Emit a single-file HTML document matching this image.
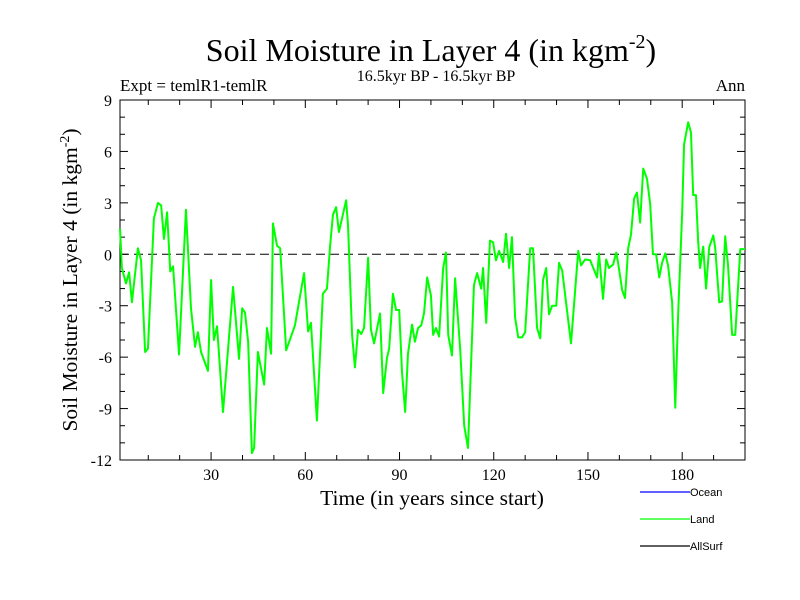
<!DOCTYPE html>
<html><head><meta charset="utf-8"><style>
body{margin:0;background:#fff}
svg{display:block;font-family:"Liberation Serif",serif}
</style></head><body>
<svg id="chart" width="800" height="600">
<text x="431" y="61" font-size="32" text-anchor="middle">Soil Moisture in Layer 4 (in kgm<tspan font-size="20" dy="-13">-2</tspan><tspan dy="13">)</tspan></text>
<text x="436" y="81" font-size="16" text-anchor="middle">16.5kyr BP - 16.5kyr BP</text>
<text x="120" y="91" font-size="17">Expt = temlR1-temlR</text>
<text x="745" y="91" font-size="17" text-anchor="end">Ann</text>
<text transform="translate(77,280) rotate(-90)" font-size="21.5" text-anchor="middle">Soil Moisture in Layer 4 (in kgm<tspan font-size="14" dy="-8">-2</tspan><tspan dy="8">)</tspan></text>
<text x="432" y="505" font-size="21.5" text-anchor="middle">Time (in years since start)</text>
<g id="axes"></g>
<g id="series"></g>
<g id="legend" font-family="Liberation Sans, sans-serif" font-size="11"></g>
</svg>
<script>
const years=[1,1.6,2.9,3.9,4.8,6.7,7.7,9,9.9,11.8,13.1,14.1,15,16,17,17.9,19.8,22,23.6,24.9,25.8,26.8,29,30,30.9,31.9,33.8,37,38.9,39.9,40.8,41.8,43,43.7,44.9,46.9,47.8,49.1,49.7,51,52,53.9,56.7,59.6,60.9,61.8,63.7,65.6,66.9,67.9,68.8,69.8,70.7,73,73.6,74.9,75.8,76.8,77.8,78.7,80,80.9,81.9,83.8,84.8,86,86.7,87.9,88.9,89.9,90.8,91.8,92.7,94,94.9,95.9,96.9,97.8,98.8,100,100.7,101.6,102.6,103.9,104.8,105.5,106.7,107.7,109.3,110.6,111.8,113.7,114.7,116,116.6,117.6,118.8,119.8,120.7,121.7,123,123.9,124.9,125.8,126.8,127.8,129,130,131.6,132.5,133.8,134.8,135.7,136.7,137.6,138.6,139.9,140.8,141.8,144.6,146.9,147.8,149.1,150.7,152.9,153.5,154.8,155.8,156.7,158,159,159.6,160.9,161.8,162.8,163.7,164.7,165.6,166.6,167.6,168.8,169.8,170.7,171.7,172.7,173.6,174.6,175.5,176.8,177.8,178.7,180,180.6,181.9,182.8,183.5,184.4,185.1,185.7,186.7,187.6,188.6,189.9,190.5,191.8,192.7,193.7,194.6,195.9,196.9,198.5,199.4,200];
const land=[1.5,-0.8,-1.7,-1.05,-2.8,0.35,-0.35,-5.7,-5.5,2.1,3.0,2.85,0.9,2.45,-1.0,-0.7,-5.85,2.6,-3.15,-5.4,-4.55,-5.7,-6.8,-1.5,-5.0,-4.2,-9.2,-1.9,-6.1,-3.15,-3.4,-5.1,-11.6,-11.3,-5.7,-7.6,-4.3,-5.8,1.8,0.5,0.35,-5.6,-4.15,-1.1,-4.5,-4.0,-9.7,-2.3,-2.0,0.5,2.3,2.75,1.3,3.15,1.7,-4.7,-6.6,-4.4,-4.65,-4.3,-0.2,-4.4,-5.2,-3.45,-8.1,-6.05,-5.5,-2.3,-3.25,-3.25,-6.9,-9.2,-5.8,-4.1,-5.1,-4.3,-4.15,-3.45,-1.35,-2.4,-4.7,-4.3,-4.8,-0.8,0.1,-4.7,-5.9,-1.4,-5.5,-10.0,-11.3,-1.8,-1.1,-2.0,-0.8,-4.0,0.8,0.7,-0.35,0.2,-0.45,1.2,-0.8,1.0,-3.7,-4.85,-4.85,-4.55,0.35,0.35,-4.3,-4.9,-1.5,-0.8,-3.5,-3.0,-3.0,-0.5,-0.95,-5.2,0.2,-0.65,-0.3,-0.35,-1.35,0.05,-2.6,-0.3,-0.8,-0.6,0.1,-0.5,-2.1,-2.55,0.35,1.15,3.25,3.6,1.85,5.0,4.4,2.95,0,0,-1.35,-0.5,0.05,-0.65,-2.8,-8.95,-3.55,2.45,6.4,7.7,7.1,3.45,3.45,0.7,-0.8,0.45,-2.0,0.4,1.1,0.4,-2.8,-2.75,1.05,-0.65,-4.7,-4.7,0.3,0.3,0.3];
const yTicks=[-12,-9,-6,-3,0,3,6,9];
const xTicks=[30,60,90,120,150,180];
const legendLabels=["Ocean","Land","AllSurf"];
const legendColors=["#0000ff","#00ff00","#000000"];

const L=120,R=745,T=100,B=460,X0=1,X1=200,Y0=-12,Y1=9;
const sx=v=>L+(v-X0)/(X1-X0)*(R-L);
const sy=v=>B-(v-Y0)/(Y1-Y0)*(B-T);
const NS="http://www.w3.org/2000/svg";
function mk(p,tag,at){const e=document.createElementNS(NS,tag);for(const k in at)e.setAttribute(k,at[k]);p.appendChild(e);return e;}
const ax=document.getElementById('axes');
const frame=mk(ax,'rect',{x:L,y:T,width:R-L,height:B-T,fill:'none',stroke:'#000','stroke-width':1});


for(let v=Y0;v<=Y1;v++){const maj=v%3===0,len=maj?8:5;
 mk(ax,'line',{x1:L,x2:L+len,y1:sy(v),y2:sy(v),stroke:'#000'});
 mk(ax,'line',{x1:R,x2:R-len,y1:sy(v),y2:sy(v),stroke:'#000'});}
for(let v=10;v<=200;v+=10){const maj=v%30===0,len=maj?8:5;
 mk(ax,'line',{x1:sx(v),x2:sx(v),y1:B,y2:B-len,stroke:'#000'});
 mk(ax,'line',{x1:sx(v),x2:sx(v),y1:T,y2:T+len,stroke:'#000'});}
yTicks.forEach(v=>{const t=mk(ax,'text',{x:L-8,y:sy(v)+6,'font-size':16,'text-anchor':'end'});t.textContent=v;
 
 });
xTicks.forEach(v=>{const t=mk(ax,'text',{x:sx(v),y:B+20,'font-size':16,'text-anchor':'middle'});t.textContent=v;
 
 });
const zl=mk(ax,'line',{x1:L,x2:R,y1:sy(0),y2:sy(0),stroke:'#000','stroke-dasharray':'9,5','stroke-width':1});


const sg=document.getElementById('series');
const pl=mk(sg,'polyline',{points:years.map((y,i)=>sx(y)+','+sy(land[i])).join(' '),fill:'none',stroke:'#00ff00','stroke-width':2,'stroke-linejoin':'round'});


const lg=document.getElementById('legend');
legendLabels.forEach((s,i)=>{const y=492+i*27;
 const l=mk(lg,'line',{x1:640,x2:690,y1:y,y2:y,stroke:legendColors[i],'stroke-width':1.2});
 
 
 const t=mk(lg,'text',{x:690,y:y+4});t.textContent=s;
 
 });
</script>
</body></html>
